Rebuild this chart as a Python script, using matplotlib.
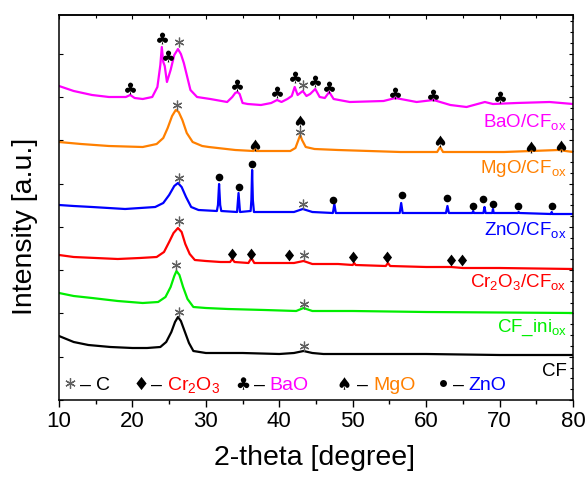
import numpy as np
import matplotlib
matplotlib.use('Agg')
import matplotlib.pyplot as plt
from matplotlib.textpath import TextPath
from matplotlib.font_manager import FontProperties
from matplotlib.path import Path
from matplotlib.ticker import MultipleLocator

plt.rcParams['font.family'] = ['Liberation Sans', 'DejaVu Sans']
plt.rcParams['mathtext.fontset'] = 'custom'
plt.rcParams['mathtext.rm'] = 'Liberation Sans'
plt.rcParams['mathtext.it'] = 'Liberation Sans:italic'
plt.rcParams['mathtext.bf'] = 'Liberation Sans:bold'

# ---------------- data (2-theta, stacked intensity a.u.) ----------------
cf_x = [10, 11, 12, 14, 17, 20, 22, 23.8, 24.6, 25.3, 25.8, 26.2, 26.6, 27.1, 27.7, 28.3,
        30, 35, 40, 42, 43.3, 44.5, 46, 50, 60, 70, 80]
cf_y = [64, 61, 58, 55, 53, 52, 52, 53, 58, 68, 78, 83, 79, 69, 57, 49,
        47, 47, 46, 47, 49, 47, 46, 46, 46, 45, 45]

ini_x = [10, 12, 14.5, 18, 21.4, 23.5, 24.5, 25.2, 25.7, 26.0, 26.4, 26.9, 27.5, 28.3,
         30, 33, 38, 42.3, 43.3, 44.5, 50, 60, 80]
ini_y = [107, 104, 102, 99, 97, 98, 103, 113, 124, 129, 125, 113, 101, 93,
         92, 91, 90, 89, 92, 89, 89, 88, 87]

cr_x = [10, 12, 15, 18, 21, 23.3, 24.3, 25.0, 25.6, 26.2, 26.7, 27.2, 27.8, 28.5, 30, 32,
        33.3, 33.6, 33.9, 35.8, 36.2, 36.6, 40, 42, 43.3, 44.5, 48, 50, 50.2, 50.4,
        54.5, 54.8, 55.1, 60, 63.4, 65, 70, 80]
cr_y = [145, 143, 142, 141, 142, 143, 148, 158, 167, 172, 168, 156, 146, 140, 139, 138,
        138, 141, 138, 137, 142, 137, 137, 137, 139, 136, 136, 135, 137, 135,
        134, 137, 134, 133, 133, 132, 132, 131]

zn_x = [10, 12, 14.5, 19, 23.1, 24.2, 25.0, 25.7, 26.2, 26.7, 27.3, 28.0, 29, 31.5,
        31.65, 31.8, 31.95, 32.1, 34.25, 34.45, 34.65, 36.1, 36.2, 36.3, 36.4, 36.55,
        40, 42, 43.2, 44.5, 47.3, 47.5, 47.7, 56.4, 56.6, 56.8, 62.7, 62.9, 63.1,
        66.3, 66.4, 66.5, 67.8, 67.95, 68.1, 69.0, 69.1, 69.2, 72.5, 72.6, 72.7,
        77.0, 77.1, 77.2, 80]
zn_y = [195, 194, 193, 191, 193, 197, 205, 214, 217, 213, 203, 193, 190, 189,
        195, 216, 195, 189, 188, 207, 188, 189, 200, 230, 200, 188,
        188, 188, 191, 188, 187, 196, 187, 187, 197, 187, 187, 194, 187,
        187, 189, 187, 187, 193, 187, 187, 191, 187, 187, 188, 187,
        186, 188, 186, 186]

mg_x = [10, 13, 16.8, 21.4, 23.3, 24.2, 24.8, 25.4, 25.9, 26.3, 26.8, 27.4, 28.2, 29.5,
        30.4, 34, 36.5, 36.7, 36.9, 41.5, 42.2, 42.6, 42.85, 43.1, 43.6, 44.8, 48,
        56.5, 61.5, 61.9, 62.3, 70.6, 78, 80]
mg_y = [258, 256, 254, 253, 256, 262, 272, 284, 290, 288, 280, 267, 258, 254,
        253, 250, 249, 251, 249, 249, 252, 260, 265, 260, 253, 251, 250,
        248, 248, 253, 248, 248, 250, 248]

ba_x = [10, 12, 14.5, 16.8, 19.1, 19.7, 20.3, 21.4, 22.7, 23.4, 23.8, 24.0, 24.2, 24.4,
        24.7, 25.2, 25.7, 26.2, 26.6, 27.0, 27.9, 28.8, 30.6, 32.9, 33.6, 34.0, 34.3,
        34.6, 35.0, 35.7, 37.5, 38.9, 39.7, 40.3, 41.1, 41.7, 42.1, 42.5, 43.2, 43.7,
        44.2, 44.9, 45.5, 46.2, 46.8, 47.4, 49.6, 54.2, 55.8, 58.7, 61.0, 63.3, 65.5,
        68.0, 69.1, 72.3, 76.8, 80]
ba_y = [314, 309, 305, 303, 303, 305, 302, 301, 303, 313, 335, 353, 338, 334,
        318, 330, 345, 351, 346, 337, 310, 303, 301, 298, 303, 307, 308,
        306, 297, 296, 295, 297, 300, 298, 301, 304, 313, 305, 309, 304,
        306, 311, 303, 302, 308, 301, 298, 299, 302, 298, 300, 295, 293,
        298, 296, 297, 298, 296]

# phase markers (2-theta, height)
c_x = [26.3, 43.2, 26.1, 42.8, 26.3, 43.2, 26.3, 43.3, 26.0, 43.3, 26.3, 43.3]
c_y = [358, 315, 295, 268, 222, 196, 179, 145, 135, 96, 88, 54]
cr2o3_x = [33.6, 36.2, 41.3, 50.05, 54.7, 63.4, 64.9]
cr2o3_y = [146, 146, 145, 143, 143, 140, 140]
bao_x = [19.7, 24.0, 24.8, 34.3, 39.7, 42.1, 44.9, 46.8, 55.8, 61.0, 70.1]
bao_y = [312, 362, 344, 315, 308, 323, 319, 313, 307, 305, 303]
mgo_x = [36.7, 42.8, 61.9, 74.3, 78.3]
mgo_y = [255, 279, 259, 253, 254]
zno_x = [31.8, 34.5, 36.3, 47.3, 56.7, 62.9, 66.4, 67.8, 69.1, 72.5, 77.2]
zno_y = [223, 213, 236, 200, 205, 202, 194, 201, 196, 194, 194]

series_labels = ['BaO/CF$_{\\mathrm{ox}}$', 'MgO/CF$_{\\mathrm{ox}}$', 'ZnO/CF$_{\\mathrm{ox}}$',
                 'Cr$_2$O$_3$/CF$_{\\mathrm{ox}}$', 'CF_ini$_{\\mathrm{ox}}$', 'CF']
label_y = [273, 227, 165, 113, 68, 24]
colors = ['#ff00ff', '#ff8000', '#0000ff', '#ff0000', '#00ee00', '#000000']

# legend entries: phase name, colour
legend_names = ['C', 'Cr$_2$O$_3$', 'BaO', 'MgO', 'ZnO']
legend_colors = ['#000000', '#ff0000', '#ff00ff', '#ff8000', '#0000ff']
legend_sym_x = [11.5, 21.2, 35.1, 48.8, 62.3]
legend_dash_x = [12.9, 22.5, 36.5, 50.6, 63.6]
legend_name_x = [15.1, 24.7, 38.6, 52.8, 65.8]

xticks = [10, 20, 30, 40, 50, 60, 70, 80]


def suit_marker(ch):
    p = TextPath((0, 0), ch, size=10, prop=FontProperties(family='DejaVu Sans'))
    v = p.vertices.copy()
    ext = p.get_extents()
    cx, cy = (ext.x0 + ext.x1) / 2, (ext.y0 + ext.y1) / 2
    v[:, 0] -= cx
    v[:, 1] -= cy
    codes = p.codes
    if codes is not None:
        for i, c in enumerate(codes):
            if c == Path.CLOSEPOLY:
                v[i] = v[i - 1]
    return Path(v, codes)


club = suit_marker('\u2663')
spade = suit_marker('\u2660')
diamond = suit_marker('\u2666')
star = (6, 2, 0)
STAR_COLOR = '#606060'

fig = plt.figure(figsize=(5.86, 4.79), dpi=100)
ax = fig.add_axes([59 / 586, 79 / 479, 514 / 586, 385 / 479])

curves = [(ba_x, ba_y), (mg_x, mg_y), (zn_x, zn_y), (cr_x, cr_y), (ini_x, ini_y), (cf_x, cf_y)]
for (xs, ys), col in zip(curves, colors):
    ax.plot(xs, ys, color=col, lw=1.6, solid_joinstyle='round')

ax.plot(c_x, c_y, ls='none', marker=star, ms=7, mec=STAR_COLOR, mew=0.9)
ax.plot(cr2o3_x, cr2o3_y, ls='none', marker=diamond, ms=8.5, mfc='black', mec='black', mew=0)
ax.plot(bao_x, bao_y, ls='none', marker=club, ms=8.5, mfc='black', mec='black', mew=0)
ax.plot(mgo_x, mgo_y, ls='none', marker=spade, ms=8.5, mfc='black', mec='black', mew=0)
ax.plot(zno_x, zno_y, ls='none', marker='o', ms=5.5, mfc='black', mec='black', mew=0)

tr = ax.get_yaxis_transform()
for lab, ly, col in zip(series_labels, label_y, colors):
    ax.text(0.988, ly, lab, transform=tr, ha='right', va='baseline', color=col, fontsize=13.5)

# legend row
leg_sym_y = 17
leg_txt_y = 10
legend_markers = [(star, 7.5), (diamond, 9.5), (club, 9), (spade, 9), ('o', 5)]
for (mk, ms), sx in zip(legend_markers, legend_sym_x):
    if mk is star:
        ax.plot([sx], [leg_sym_y], ls='none', marker=mk, ms=ms, mec=STAR_COLOR, mew=0.9)
    else:
        ax.plot([sx], [leg_sym_y], ls='none', marker=mk, ms=ms, mfc='black', mew=0)
for name, col, dx, nx in zip(legend_names, legend_colors, legend_dash_x, legend_name_x):
    ax.text(dx, leg_txt_y, '\u2013', color='black', fontsize=14, va='baseline')
    ax.text(nx, leg_txt_y, name, color=col, fontsize=14, va='baseline')

ax.set_xlim(10, 80)
ax.set_ylim(0, 385)
ax.set_xticks(xticks)
ax.set_xticklabels([str(t) for t in xticks])
ax.xaxis.set_minor_locator(MultipleLocator(5))
ax.yaxis.set_major_locator(MultipleLocator(43.3))
ax.yaxis.set_minor_locator(MultipleLocator(43.3 / 4))
ax.tick_params(axis='x', which='major', direction='out', length=5, width=1, labelsize=16, pad=3)
ax.tick_params(axis='x', which='minor', direction='out', length=3, width=1)
ax.tick_params(axis='y', which='major', direction='in', length=3, width=0.8, left=True, right=True, labelleft=False)
ax.tick_params(axis='y', which='minor', direction='in', length=2, width=0.8, left=False, right=True)
for s in ax.spines.values():
    s.set_linewidth(1.1)

sec = ax.secondary_xaxis('top')
sec.set_xticks(xticks)
sec.xaxis.set_minor_locator(MultipleLocator(5))
sec.tick_params(which='major', direction='in', length=3, width=0.8, labeltop=False)
sec.tick_params(which='minor', direction='in', length=2, width=0.8)
sec.spines['top'].set_linewidth(1.1)

fig.text(315 / 586, 1 - 458 / 479, '2-theta [degree]', ha='center', va='center', fontsize=20.5)
fig.text(25 / 586, 1 - 226 / 479, 'Intensity [a.u.]', ha='center', va='center', rotation=90, fontsize=20.5)

fig.savefig('out.png', dpi=100)
